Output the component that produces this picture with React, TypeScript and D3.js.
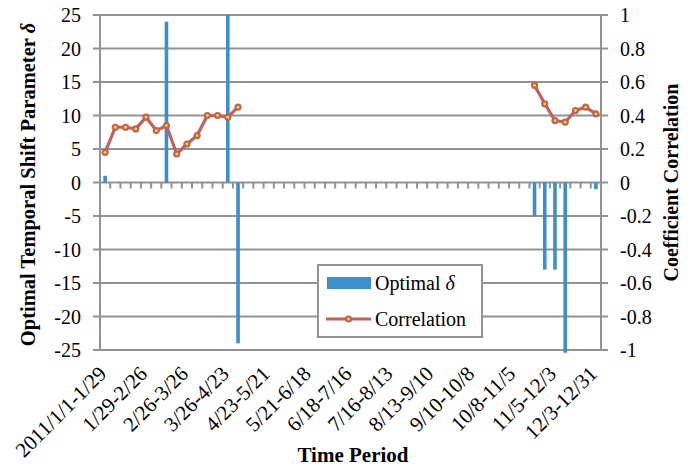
import React from 'react';
import * as d3 from 'd3';

// weekly 4-week windows, 2011
const periods = [
  '2011/1/1-1/29', '1/8-2/5', '1/15-2/12', '1/22-2/19', '1/29-2/26', '2/5-3/5', '2/12-3/12',
  '2/19-3/19', '2/26-3/26', '3/5-4/2', '3/12-4/9', '3/19-4/16', '3/26-4/23', '4/2-4/30',
  '4/9-5/7', '4/16-5/14', '4/23-5/21', '4/30-5/28', '5/7-6/4', '5/14-6/11', '5/21-6/18',
  '5/28-6/25', '6/4-7/2', '6/11-7/9', '6/18-7/16', '6/25-7/23', '7/2-7/30', '7/9-8/6',
  '7/16-8/13', '7/23-8/20', '7/30-8/27', '8/6-9/3', '8/13-9/10', '8/20-9/17', '8/27-9/24',
  '9/3-10/1', '9/10-10/8', '9/17-10/15', '9/24-10/22', '10/1-10/29', '10/8-11/5', '10/15-11/12',
  '10/22-11/19', '10/29-11/26', '11/5-12/3', '11/12-12/10', '11/19-12/17', '11/26-12/24', '12/3-12/31',
];

const delta = [
  1, 0, 0, 0, 0, 0, 24, 0, 0, 0, 0, 0, 25, -24,
  0, 0, 0, 0, 0, 0, 0, 0, 0, 0, 0, 0, 0, 0,
  0, 0, 0, 0, 0, 0, 0, 0, 0, 0, 0, 0, 0, 0,
  -5, -13, -13, -25.4, 0, 0, -1,
];

const correlation: (number | null)[] = [
  0.18, 0.33, 0.33, 0.32, 0.39, 0.31, 0.34, 0.17, 0.23, 0.28, 0.40, 0.40, 0.39, 0.45,
  null, null, null, null, null, null, null, null, null, null, null, null, null, null,
  null, null, null, null, null, null, null, null, null, null, null, null, null, null,
  0.58, 0.47, 0.37, 0.36, 0.43, 0.45, 0.41,
];

const leftTicks = [25, 20, 15, 10, 5, 0, -5, -10, -15, -20, -25];
const rightTicks = [1, 0.8, 0.6, 0.4, 0.2, 0, -0.2, -0.4, -0.6, -0.8, -1];

const W = 695, H = 469;
const L = 100, R = 601, T = 15, B = 350;
const font = '"Liberation Serif", "Times New Roman", serif';
const grid = '#8f9398';
const blue = '#3b8fce';
const red = '#c0615a';

export default function App() {
  const x = d3.scaleBand<number>().domain(d3.range(periods.length)).range([L, R]).padding(0);
  const yL = d3.scaleLinear().domain([-25, 25]).range([B, T]);
  const yR = d3.scaleLinear().domain([-1, 1]).range([B, T]);
  const cx = (i: number) => x(i)! + x.bandwidth() / 2;
  const barW = 3.6;

  const line = d3.line<number | null>()
    .defined(d => d != null)
    .x((_, i) => cx(i))
    .y(d => yR(d as number));

  const labelIdx = d3.range(0, periods.length, 4);

  return (
    <svg width={W} height={H} style={{ position: 'absolute', left: 0, top: 0, background: '#fff' }}
      fontFamily={font}>
      {/* gridlines + outward ticks */}
      {leftTicks.map(t => (
        <line key={'g' + t} x1={L - 7} x2={R + 7} y1={yL(t)} y2={yL(t)} stroke={grid} strokeWidth={2} />
      ))}
      <line x1={L} x2={L} y1={T} y2={B} stroke={grid} strokeWidth={2} />
      <line x1={R} x2={R} y1={T} y2={B} stroke={grid} strokeWidth={2} />
      {/* category ticks on the zero line */}
      {d3.range(1, periods.length).map(i => (
        <line key={'c' + i} x1={x(i)!} x2={x(i)!} y1={yL(0)} y2={yL(0) + 6} stroke={grid} strokeWidth={2} />
      ))}

      {/* bars */}
      {delta.map((v, i) => v === 0 ? null : (
        <rect key={'b' + i} x={cx(i) - barW / 2} width={barW}
          y={Math.min(yL(v), yL(0))} height={Math.abs(yL(v) - yL(0))} fill={blue} />
      ))}

      {/* correlation line */}
      <path d={line(correlation) || ''} fill="none" stroke={red} strokeWidth={3.2} strokeLinejoin="round" />
      {correlation.map((v, i) => v == null ? null : (
        <g key={'m' + i}>
          <circle cx={cx(i)} cy={yR(v)} r={3.6} fill={red} />
          <circle cx={cx(i)} cy={yR(v)} r={1.4} fill="#f5e21a" />
        </g>
      ))}

      {/* left axis labels */}
      {leftTicks.map(t => (
        <text key={'l' + t} x={81} y={yL(t)} dy="0.35em" textAnchor="end" fontSize={20}>{t}</text>
      ))}
      {rightTicks.map(t => (
        <text key={'r' + t} x={620} y={yR(t)} dy="0.35em" textAnchor="start" fontSize={20}>{t}</text>
      ))}

      {/* x labels */}
      {labelIdx.map(i => (
        <text key={'x' + i} transform={`translate(${cx(i) + 2.5},${B + 25}) rotate(-45)`}
          textAnchor="end" fontSize={21}>{periods[i]}</text>
      ))}

      {/* titles */}
      <text x={353} y={462} textAnchor="middle" fontSize={21} fontWeight="bold">Time Period</text>
      <text transform={`translate(35,${(T + B) / 2 + 2}) rotate(-90)`} textAnchor="middle" fontSize={20.5} fontWeight="bold">
        Optimal Temporal Shift Parameter <tspan fontStyle="italic">δ</tspan>
      </text>
      <text transform={`translate(678,${(T + B) / 2}) rotate(-90)`} textAnchor="middle" fontSize={20} fontWeight="bold">
        Coefficient Correlation
      </text>

      {/* legend */}
      <g>
        <rect x={318} y={265} width={164} height={72} fill="#fff" stroke={grid} strokeWidth={2} />
        <rect x={327} y={277} width={44} height={12} fill={blue} />
        <text x={375} y={290} fontSize={20}>Optimal <tspan fontStyle="italic">δ</tspan></text>
        <line x1={326} x2={371} y1={319} y2={319} stroke={red} strokeWidth={3.2} />
        <circle cx={348.5} cy={319} r={3.6} fill={red} />
        <circle cx={348.5} cy={319} r={1.4} fill="#f5e21a" />
        <text x={375} y={326} fontSize={20}>Correlation</text>
      </g>
    </svg>
  );
}
